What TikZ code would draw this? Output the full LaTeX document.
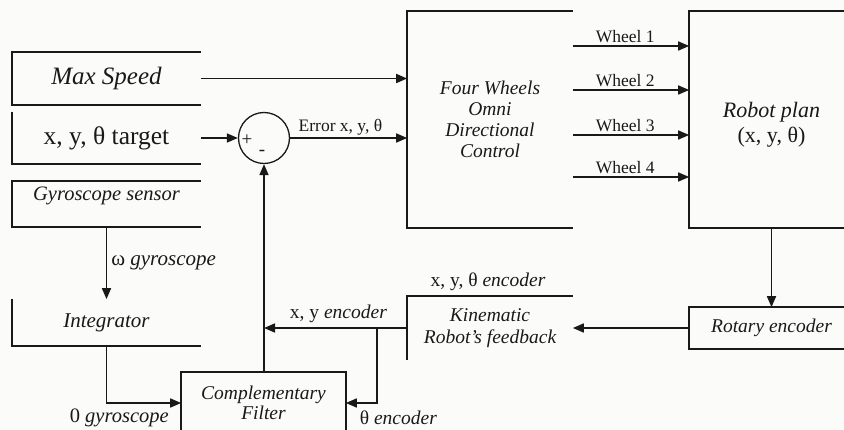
\documentclass[tikz,border=0pt]{standalone}
\usepackage{fontspec}
\setmainfont{Liberation Serif}
\usetikzlibrary{arrows.meta,calc}
\definecolor{bgcol}{RGB}{251,251,249}
\definecolor{ink}{RGB}{25,25,25}
\begin{document}
\begin{tikzpicture}[x=1pt,y=-1pt,
  line width=1.7pt, draw=ink,
  arr/.style={draw=ink,-{Triangle[length=11pt,width=9pt]}},
  box/.style={rectangle, draw=none, inner sep=0pt, align=center, text=ink},
  lbl/.style={inner sep=2pt, text=ink},
  fB/.style={font=\fontsize{19.5pt}{21pt}\selectfont\itshape},
  fC/.style={font=\fontsize{17.5pt}{20pt}\selectfont},
  fD/.style={font=\fontsize{19.5pt}{22pt}\selectfont}
]
\fill[bgcol] (0,0) rectangle (844,430);
\useasboundingbox (0,0) rectangle (844,430);
\coordinate (edge) at (844,0);
\coordinate (bot) at (0,430);
\coordinate (cfy) at (0,403);
\coordinate (br) at (377,0);
\coordinate (wy1) at (0,46);
\coordinate (wy2) at (0,90);
\coordinate (wy3) at (0,135);
\coordinate (wy4) at (0,177);

% left column
\node[box, font=\fontsize{25pt}{28pt}\selectfont\itshape, minimum width=187pt, minimum height=51pt] (max) at (106.5,78.5) {Max Speed};
\draw (max.north east) -- (max.north west) -- (max.south west) -- (max.south east);

\node[box, font=\fontsize{25.5pt}{28pt}\selectfont, minimum width=187pt, minimum height=51pt] (tgt) at (106.5,138) {x, y, θ target};
\draw (tgt.north west) -- (tgt.south west) -- (tgt.south east);

\node[box, minimum width=187pt, minimum height=44pt] (gyro) at (106.5,204) {};
\node[box, font=\fontsize{20.5pt}{23pt}\selectfont\itshape] (gyrot) at (106.5,196) {Gyroscope sensor};
\draw (gyro.north east) -- (gyro.north west) -- (gyro.south west) -- (gyro.south east);

\node[box, font=\fontsize{21pt}{24pt}\selectfont\itshape, minimum width=187pt, minimum height=45pt] (integ) at (106.5,322.5) {Integrator};
\draw (integ.north west) -- (integ.south west) -- (integ.south east);

% summing junction
\node[circle, draw=ink, line width=1.3pt, minimum size=51pt, inner sep=0pt] (sum) at (264,138) {};
\node[lbl, font=\fontsize{19pt}{20pt}\selectfont] (plus) at (247,140) {+};
\node[lbl, font=\fontsize{19pt}{20pt}\selectfont] (minus) at (262,153) {-};

% four wheels control
\node[box, fB, minimum width=164pt, minimum height=215pt] (fwc) at (490,119.5) {Four Wheels\\Omni\\Directional\\Control};
\draw (fwc.north east) -- (fwc.north west) -- (fwc.south west) -- (fwc.south east);

% robot plan
\node[box, minimum width=163pt, minimum height=215pt] (robot) at (771.5,119.5) {};
\node[box, font=\fontsize{22pt}{25pt}\selectfont] (robott) at (771.5,124.5) {\textit{Robot plan}\\(x, y, θ)};
\draw (robot.north west -| edge) -- (robot.north west) -- (robot.south west) -- (robot.south west -| edge);

% rotary encoder
\node[box, fB, minimum width=163pt, minimum height=40pt] (rot) at (771.5,328) {Rotary encoder};
\draw (rot.north west -| edge) -- (rot.north west) -- (rot.south west) -- (rot.south west -| edge);

% kinematic feedback
\node[box, font=\fontsize{19.5pt}{22pt}\selectfont\itshape, minimum width=164pt, minimum height=62pt] (kin) at (490,328) {Kinematic\\Robot's feedback};
\draw (kin.north east) -- (kin.north west) -- (kin.south west);
\node[lbl, fD] (kinlbl) at (488,282) {x, y, θ \textit{encoder}};

% complementary filter
\node[box, minimum width=163pt, minimum height=80pt] (cf) at (263.5,413) {};
\node[box, font=\fontsize{19.5pt}{20pt}\selectfont\itshape] (cft) at (263.5,403) {Complementary\\Filter};
\draw (cf.north west |- bot) -- (cf.north west) -- (cf.north east) -- (cf.north east |- bot);

% connectors
\draw[arr] (max.east) -- (max.east -| fwc.west);
\draw[arr] (tgt.east) -- (sum.west);
\draw[arr] (sum.east) -- node[lbl, above, pos=0.43, font=\fontsize{17.5pt}{20pt}\selectfont] (errlbl) {Error x, y, θ} (sum.east -| fwc.west);
\draw[arr] (fwc.east |- wy1) -- node[lbl, above, pos=0.45, fC] (w1) {Wheel 1} (robot.west |- wy1);
\draw[arr] (fwc.east |- wy2) -- node[lbl, above, pos=0.45, fC] (w2) {Wheel 2} (robot.west |- wy2);
\draw[arr] (fwc.east |- wy3) -- node[lbl, above, pos=0.45, fC] (w3) {Wheel 3} (robot.west |- wy3);
\draw[arr] (fwc.east |- wy4) -- node[lbl, above, pos=0.45, fC] (w4) {Wheel 4} (robot.west |- wy4);
\draw[arr] (robot.south) -- (rot.north);
\draw[arr] (rot.west) -- (kin.east);
\draw[arr] (kin.west) -- node[lbl, above=2pt, pos=0.48, fD] (xylbl) {x, y \textit{encoder}} (kin.west -| sum.south);
\draw[arr] (sum.south |- cf.north) -- (sum.south);
\draw[arr] (br |- kin.west) |- (cf.east |- cfy);
\draw[arr] (gyro.south) -- node[lbl, right=2pt, font=\fontsize{21pt}{24pt}\selectfont] (omlbl) {ω \textit{gyroscope}} (integ.north);
\draw[arr] (integ.south) |- (cf.west |- cfy);
\node[lbl, fD, anchor=west] (thlbl) at (357,418) {θ \textit{encoder}};
\node[lbl, font=\fontsize{20.5pt}{23pt}\selectfont, anchor=west] (zlbl) at (67,418) {0 \textit{gyroscope}};
\end{tikzpicture}
\end{document}
